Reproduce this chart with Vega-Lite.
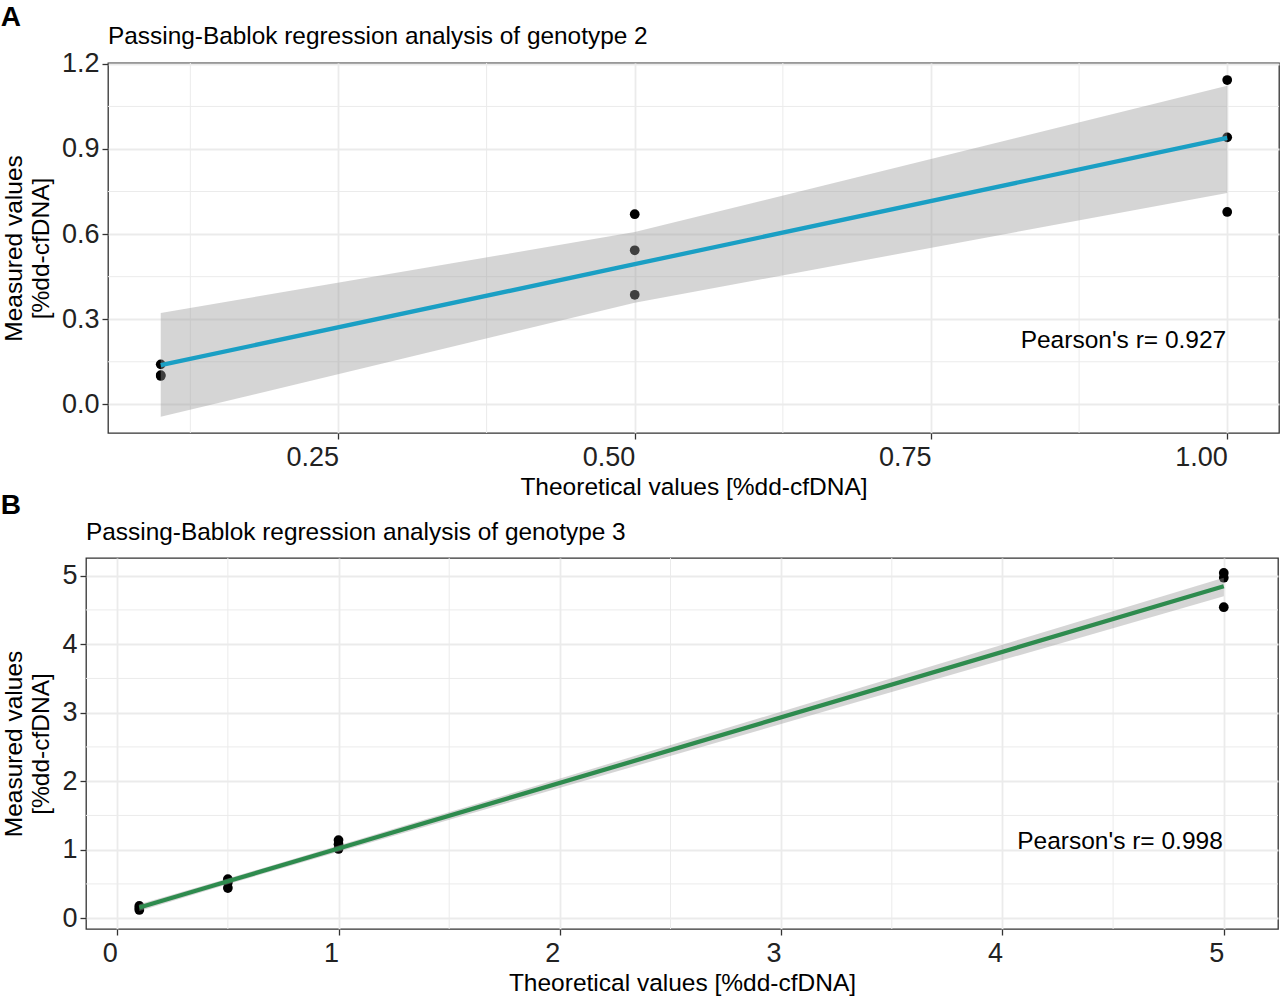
{
  "$schema": "https://vega.github.io/schema/vega-lite/v6.json",
  "background": "white",
  "padding": {"left": 0, "top": 3, "right": 2, "bottom": 0},
  "datasets": {
    "ptsA": [
      {"x": 0.1, "y": 0.141}, {"x": 0.1, "y": 0.103}, {"x": 0.1, "y": 0.1},
      {"x": 0.5, "y": 0.67}, {"x": 0.5, "y": 0.543}, {"x": 0.5, "y": 0.386},
      {"x": 1.0, "y": 1.143}, {"x": 1.0, "y": 0.941}, {"x": 1.0, "y": 0.678}
    ],
    "bandA": [
      {"x": 0.1, "lo": -0.044, "hi": 0.322, "fit": 0.138},
      {"x": 0.5, "lo": 0.358, "hi": 0.607, "fit": 0.494},
      {"x": 1.0, "lo": 0.745, "hi": 1.123, "fit": 0.939}
    ],
    "minorAx": [{"v": 0.125}, {"v": 0.375}, {"v": 0.625}, {"v": 0.875}],
    "minorAy": [{"v": 0.15}, {"v": 0.45}, {"v": 0.75}, {"v": 1.05}],
    "noteA": [{"x": 1.0, "y": 0.225, "label": "Pearson's r= 0.927"}],
    "ptsB": [
      {"x": 0.1, "y": 0.12}, {"x": 0.1, "y": 0.15}, {"x": 0.1, "y": 0.18},
      {"x": 0.5, "y": 0.44}, {"x": 0.5, "y": 0.52}, {"x": 0.5, "y": 0.57},
      {"x": 1.0, "y": 1.01}, {"x": 1.0, "y": 1.08}, {"x": 1.0, "y": 1.14},
      {"x": 5.0, "y": 5.04}, {"x": 5.0, "y": 4.97}, {"x": 5.0, "y": 4.54}
    ],
    "bandB": [
      {"x": 0.1, "lo": 0.105, "hi": 0.205, "fit": 0.156},
      {"x": 0.5, "lo": 0.495, "hi": 0.58, "fit": 0.539},
      {"x": 1.0, "lo": 0.97, "hi": 1.06, "fit": 1.017},
      {"x": 5.0, "lo": 4.7, "hi": 4.97, "fit": 4.846}
    ],
    "minorBx": [{"v": 0.5}, {"v": 1.5}, {"v": 2.5}, {"v": 3.5}, {"v": 4.5}],
    "minorBy": [{"v": 0.5}, {"v": 1.5}, {"v": 2.5}, {"v": 3.5}, {"v": 4.5}],
    "noteB": [{"x": 5.0, "y": 1.11, "label": "Pearson's r= 0.998"}],
    "blank": [{"k": 1}]
  },
  "spacing": -9,
  "vconcat": [
    {
      "spacing": -21,
      "hconcat": [
        {
          "width": 1,
          "height": 1,
          "view": {"stroke": null},
          "title": {"text": "A", "fontSize": 28, "fontWeight": "bold", "anchor": "start", "baseline": "alphabetic", "offset": 7},
          "data": {"name": "blank"},
          "mark": {"type": "point", "opacity": 0},
          "encoding": {}
        },
        {
          "width": 1171,
          "height": 370,
          "title": {"text": "Passing-Bablok regression analysis of genotype 2", "fontSize": 24.4, "fontWeight": "normal", "anchor": "start", "frame": "group", "offset": 0},
          "layer": [
            {
              "data": {"name": "minorAx"},
              "mark": {"type": "rule", "color": "#EBEBEB", "strokeWidth": 1},
              "encoding": {"x": {"field": "v", "type": "quantitative"}}
            },
            {
              "data": {"name": "minorAy"},
              "mark": {"type": "rule", "color": "#EBEBEB", "strokeWidth": 1},
              "encoding": {"y": {"field": "v", "type": "quantitative"}}
            },
            {
              "data": {"name": "ptsA"},
              "mark": {"type": "point", "filled": true, "color": "black", "opacity": 1, "size": 95},
              "encoding": {
                "x": {
                  "field": "x", "type": "quantitative",
                  "title": "Theoretical values [%dd-cfDNA]",
                  "scale": {"domain": [0.0555, 1.0437], "nice": false, "zero": false},
                  "axis": {"values": [0.25, 0.5, 0.75, 1.0], "format": ".2f"}
                },
                "y": {
                  "field": "y", "type": "quantitative",
                  "title": ["Measured values", "[%dd-cfDNA]"],
                  "scale": {"domain": [-0.101, 1.203], "nice": false, "zero": false},
                  "axis": {"values": [0, 0.3, 0.6, 0.9, 1.2], "format": ".1f"}
                }
              }
            },
            {
              "data": {"name": "bandA"},
              "mark": {"type": "area", "color": "#999999", "opacity": 0.41},
              "encoding": {
                "x": {"field": "x", "type": "quantitative"},
                "y": {"field": "lo", "type": "quantitative"},
                "y2": {"field": "hi"}
              }
            },
            {
              "data": {"name": "bandA"},
              "mark": {"type": "line", "color": "#1a9fc4", "strokeWidth": 4.3},
              "encoding": {
                "x": {"field": "x", "type": "quantitative"},
                "y": {"field": "fit", "type": "quantitative"}
              }
            },
            {
              "data": {"name": "noteA"},
              "mark": {"type": "text", "align": "right", "baseline": "middle", "fontSize": 24.5, "color": "black", "dx": -1},
              "encoding": {
                "x": {"field": "x", "type": "quantitative"},
                "y": {"field": "y", "type": "quantitative"},
                "text": {"field": "label"}
              }
            }
          ]
        }
      ]
    },
    {
      "spacing": -20,
      "hconcat": [
        {
          "width": 1,
          "height": 1,
          "view": {"stroke": null},
          "title": {"text": "B", "fontSize": 28, "fontWeight": "bold", "anchor": "start", "baseline": "alphabetic", "offset": 14},
          "data": {"name": "blank"},
          "mark": {"type": "point", "opacity": 0},
          "encoding": {}
        },
        {
          "width": 1192,
          "height": 371,
          "title": {"text": "Passing-Bablok regression analysis of genotype 3", "fontSize": 24.4, "fontWeight": "normal", "anchor": "start", "frame": "group", "offset": 12},
          "layer": [
            {
              "data": {"name": "minorBx"},
              "mark": {"type": "rule", "color": "#EBEBEB", "strokeWidth": 1},
              "encoding": {"x": {"field": "v", "type": "quantitative"}}
            },
            {
              "data": {"name": "minorBy"},
              "mark": {"type": "rule", "color": "#EBEBEB", "strokeWidth": 1},
              "encoding": {"y": {"field": "v", "type": "quantitative"}}
            },
            {
              "data": {"name": "ptsB"},
              "mark": {"type": "point", "filled": true, "color": "black", "opacity": 1, "size": 95},
              "encoding": {
                "x": {
                  "field": "x", "type": "quantitative",
                  "title": "Theoretical values [%dd-cfDNA]",
                  "scale": {"domain": [-0.141, 5.245], "nice": false, "zero": false},
                  "axis": {"values": [0, 1, 2, 3, 4, 5], "format": "d"}
                },
                "y": {
                  "field": "y", "type": "quantitative",
                  "title": ["Measured values", "[%dd-cfDNA]"],
                  "scale": {"domain": [-0.158, 5.258], "nice": false, "zero": false},
                  "axis": {"values": [0, 1, 2, 3, 4, 5], "format": "d"}
                }
              }
            },
            {
              "data": {"name": "bandB"},
              "mark": {"type": "area", "color": "#999999", "opacity": 0.41},
              "encoding": {
                "x": {"field": "x", "type": "quantitative"},
                "y": {"field": "lo", "type": "quantitative"},
                "y2": {"field": "hi"}
              }
            },
            {
              "data": {"name": "bandB"},
              "mark": {"type": "line", "color": "#2e8b4e", "strokeWidth": 4.3},
              "encoding": {
                "x": {"field": "x", "type": "quantitative"},
                "y": {"field": "fit", "type": "quantitative"}
              }
            },
            {
              "data": {"name": "noteB"},
              "mark": {"type": "text", "align": "right", "baseline": "middle", "fontSize": 24.5, "color": "black", "dx": -1},
              "encoding": {
                "x": {"field": "x", "type": "quantitative"},
                "y": {"field": "y", "type": "quantitative"},
                "text": {"field": "label"}
              }
            }
          ]
        }
      ]
    }
  ],
  "config": {
    "font": "Liberation Sans",
    "view": {"stroke": "#333333", "strokeWidth": 1.3},
    "axis": {
      "domain": false,
      "grid": true,
      "gridColor": "#EBEBEB",
      "gridWidth": 1.8,
      "tickColor": "#333333",
      "tickWidth": 1.3,
      "tickSize": 6,
      "labelFont": "Liberation Sans",
      "labelFontSize": 27,
      "labelColor": "#222222",
      "titleFont": "Liberation Sans",
      "titleFontSize": 24.5,
      "titleFontWeight": "normal",
      "titleColor": "#000000"
    },
    "axisX": {"labelAlign": "right", "labelPadding": 5, "titlePadding": 5},
    "axisY": {"labelPadding": 3, "titlePadding": 8, "titleLineHeight": 27},
    "title": {"font": "Liberation Sans", "color": "#000000"}
  }
}
